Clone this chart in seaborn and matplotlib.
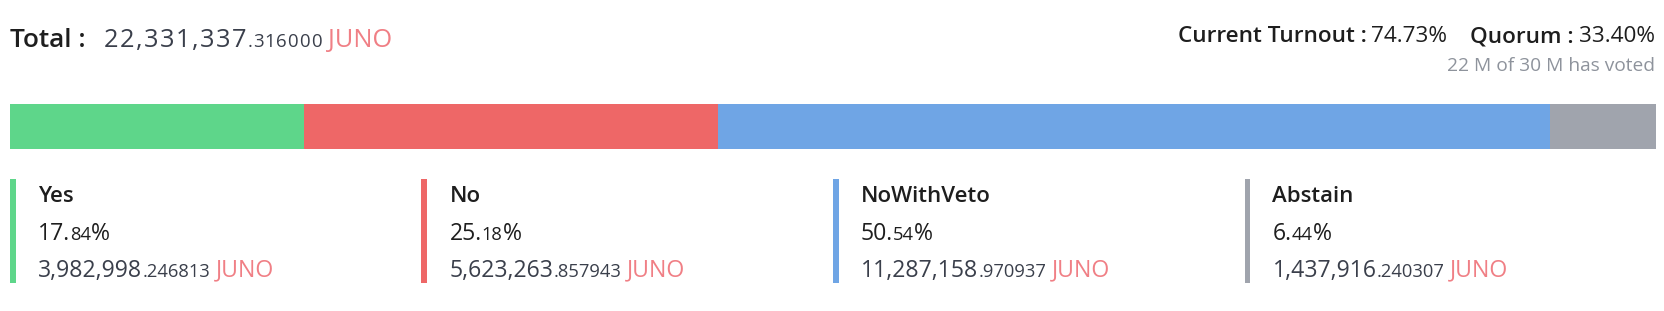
import numpy as np
import pandas as pd
import matplotlib
matplotlib.use("Agg")
import matplotlib.pyplot as plt
from matplotlib.patches import Rectangle
import seaborn as sns

# ---------------- data ----------------
categories = ["Yes", "No", "NoWithVeto", "Abstain"]
percents = [17.84, 25.18, 50.54, 6.44]
amounts = [3982998.246813, 5623263.857943, 11287158.970937, 1437916.240307]
total_amount = 22331337.316000
denom = "JUNO"
turnout = 74.73
quorum = 33.40
voted_text = "22 M of 30 M has voted"
colors = ["#5ED68A", "#EE6767", "#6FA5E5", "#A0A4AD"]

# ---------------- figure ----------------
W, H = 1664, 311
sns.set_theme(style="white")
plt.rcParams["font.family"] = ["Open Sans", "DejaVu Sans"]
fig = plt.figure(figsize=(W / 100, H / 100), dpi=100)
fig.patch.set_facecolor("white")

DARK = "#1E1E1E"
NUM = "#3A3F4B"
PINK = "#F07F85"
GREY = "#8E939C"


def fx(px):
    return px / W


def fy(py):
    return 1 - py / H


renderer = fig.canvas.get_renderer()


def text_run(x, y, parts, ha="left"):
    """parts: list of (text, size, color, weight, gap_before_px)"""
    objs = []
    widths = []
    for (s, size, color, weight, gap) in parts:
        t = fig.text(0, 0, s, fontsize=size, color=color, fontweight=weight,
                     va="baseline", ha="left", transform=fig.transFigure)
        bb = t.get_window_extent(renderer)
        objs.append(t)
        widths.append(bb.width)
    gaps = [p[4] for p in parts]
    total = sum(widths) + sum(gaps)
    cx = x if ha == "left" else x - total
    for t, w, g in zip(objs, widths, gaps):
        cx += g
        t.set_position((fx(cx), fy(y)))
        cx += w
    return cx


def split_amount(v):
    s = f"{v:,.6f}"
    a, b = s.split(".")
    return a, "." + b


# ---------------- header ----------------
ta, tb = split_amount(total_amount)
text_run(10, 46.7, [("Total :", 18.9, DARK, "semibold", 0)])
parts = [(ch, 18.3, NUM, "normal", 1.5) for ch in ta]
parts += [(ch, 13.4, NUM, "normal", 0.9) for ch in tb]
parts += [(denom, 18.3, PINK, "normal", 7)]
text_run(102, 46.7, parts)

text_run(1655, 42.5, [
    ("Current Turnout :", 16.2, DARK, "semibold", 0),
    (f"{turnout:.2f}%", 16.2, DARK, "normal", 5),
    ("Quorum :", 16.2, DARK, "semibold", 23),
    (f"{quorum:.2f}%", 16.2, DARK, "normal", 5),
], ha="right")

text_run(1655, 70.5, [(voted_text, 13.8, GREY, "normal", 0)], ha="right")

# ---------------- stacked bar ----------------
ax = fig.add_axes([fx(10), fy(149), fx(1656) - fx(10), (149 - 104) / H])
cum = np.cumsum(percents)
df = pd.DataFrame({"vote": categories, "cum": cum, "row": [""] * len(categories)})
for i in reversed(range(len(categories))):
    sns.barplot(data=df.iloc[[i]], x="cum", y="row", color=colors[i],
                saturation=1, width=1.2, orient="h", linewidth=0,
                edgecolor="none", ax=ax)
for p in ax.patches:
    p.set_linewidth(0)
    p.set_edgecolor("none")
    p.set_antialiased(False)
ax.set_xlim(0, 100)
ax.set_ylim(0.5, -0.5)
ax.axis("off")

# ---------------- legend columns ----------------
col_w = (1656 - 10) / 4
for i, (cat, pct, amt, c) in enumerate(zip(categories, percents, amounts, colors)):
    x0 = 10 + i * col_w
    fig.patches.append(Rectangle((fx(x0), fy(283)), 5.5 / W, 104 / H,
                                 transform=fig.transFigure, facecolor=c,
                                 edgecolor="none"))
    tx = x0 + 28
    text_run(tx, 202.3, [(cat, 16.0, DARK, "semibold", 0)])
    ps = f"{pct:.2f}"
    pa, pb = ps.split(".")
    text_run(tx, 240, [
        (pa + ".", 16.6, DARK, "normal", 0),
        (pb, 13.2, DARK, "normal", 0),
        ("%", 16.6, DARK, "normal", 0),
    ])
    aa, ab = split_amount(amt)
    text_run(tx, 276.7, [
        (aa, 16.6, NUM, "normal", 0),
        (ab, 13.2, NUM, "normal", 0),
        (denom, 16.6, PINK, "normal", 6),
    ])

fig.savefig("out.png", dpi=100, facecolor="white")
